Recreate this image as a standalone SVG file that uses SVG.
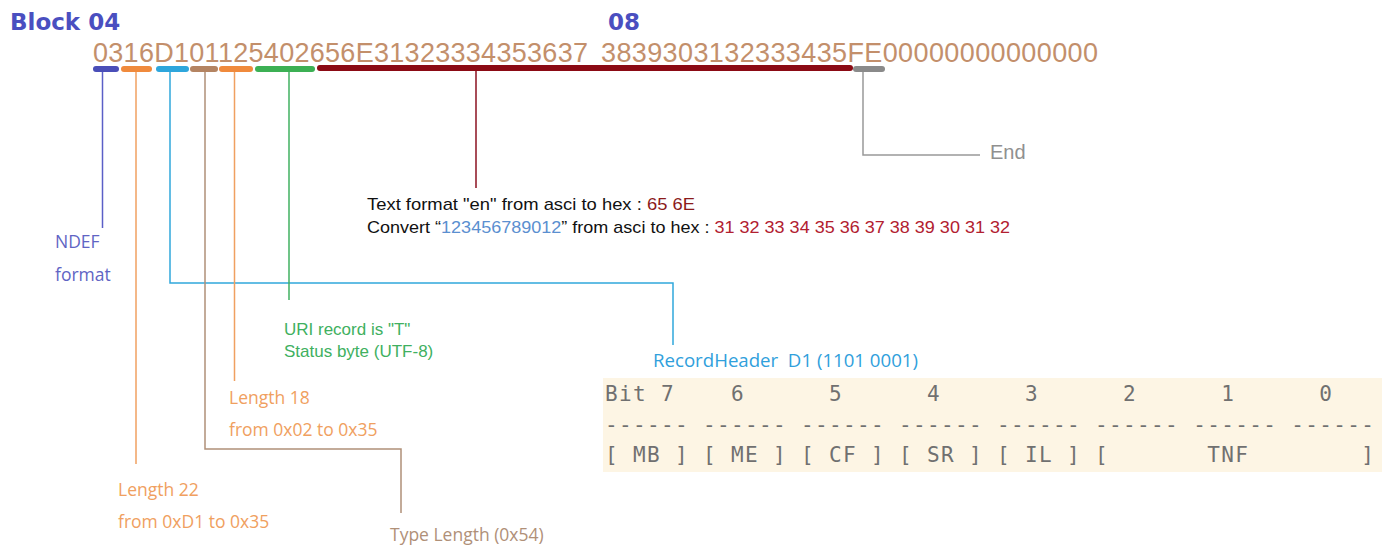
<svg xmlns="http://www.w3.org/2000/svg" width="1388" height="548" viewBox="0 0 1388 548">
<style>
.title{font-family:"DejaVu Sans",sans-serif;font-weight:bold;font-size:23px;fill:#4a4fc0}
.hex{font-family:"Liberation Sans",Arial,sans-serif;font-size:27px;fill:#c38f6b}
.bar{stroke:none}
.conn{fill:none;stroke-width:1.5}
.lbl{font-family:"Open Sans",sans-serif;font-size:17.5px}
.arial{font-family:"Liberation Sans",Arial,sans-serif}
.mono{font-family:"DejaVu Sans Mono",monospace;font-size:21px;fill:#707070;letter-spacing:1.36px}
</style>
<rect width="1388" height="548" fill="#ffffff"/>

<g id="header">
<text class="title" x="10" y="30">Block 04</text>
<text class="title" x="608" y="30">08</text>
<text class="hex" x="93" y="62" textLength="495" lengthAdjust="spacing">0316D101125402656E31323334353637</text>
<text class="hex" x="601" y="62" textLength="497" lengthAdjust="spacing">3839303132333435FE00000000000000</text>
</g>

<g id="bars">
<rect class="bar" x="93" y="66" width="26" height="6" rx="3" fill="#4a4eb8"/>
<rect class="bar" x="121" y="66" width="31" height="6" rx="3" fill="#f08a3c"/>
<rect class="bar" x="156" y="66" width="33" height="6" rx="3" fill="#2ea6dc"/>
<rect class="bar" x="190" y="66" width="28" height="6" rx="3" fill="#b48462"/>
<rect class="bar" x="219" y="66" width="34" height="6" rx="3" fill="#f08a3c"/>
<rect class="bar" x="255" y="66" width="60" height="6" rx="3" fill="#3cb054"/>
<rect class="bar" x="317" y="65" width="536" height="6" rx="3" fill="#8b0a14"/>
<rect class="bar" x="853" y="66" width="32" height="6" rx="3" fill="#8a8a8a"/>
</g>

<g id="connectors">
<path class="conn" d="M102.5 72 V228" stroke="#5b5fc7"/>
<path class="conn" d="M136 72 V464" stroke="#f0a060"/>
<path class="conn" d="M170 72 V283 H673 V345" stroke="#30a8dc"/>
<path class="conn" d="M205 72 V449 H401 V513" stroke="#b09078"/>
<path class="conn" d="M234.5 72 V381" stroke="#f0a060"/>
<path class="conn" d="M289 72 V300" stroke="#40b060"/>
<path class="conn" d="M476 71 V188" stroke="#8b1020"/>
<path class="conn" d="M863 72 V155 H980" stroke="#999999"/>
</g>

<g id="ndef">
<text class="lbl" x="55" y="248" fill="#6064c4">NDEF</text>
<text class="lbl" x="55" y="281" fill="#6064c4">format</text>
</g>

<g id="length22">
<text class="lbl" x="118" y="496" fill="#f0a060">Length 22</text>
<text class="lbl" x="118" y="528" fill="#f0a060">from 0xD1 to 0x35</text>
</g>

<g id="length18">
<text class="lbl" x="229" y="404" fill="#f0a060">Length 18</text>
<text class="lbl" x="229" y="436" fill="#f0a060">from 0x02 to 0x35</text>
</g>

<g id="typelength">
<text class="lbl" x="390" y="541" fill="#b09078">Type Length (0x54)</text>
</g>

<g id="uri">
<text class="arial" x="284" y="335" font-size="17" fill="#40b060">URI record is "T"</text>
<text class="arial" x="284" y="357" font-size="17" fill="#40b060">Status byte (UTF-8)</text>
</g>

<g id="payload">
<text class="arial" x="367" y="210" font-size="17" fill="#111111" textLength="328" lengthAdjust="spacingAndGlyphs">Text format "en" from asci to hex : <tspan fill="#8b1a1a">65 6E</tspan></text>
<text class="arial" x="367" y="233" font-size="17" fill="#111111" textLength="643" lengthAdjust="spacingAndGlyphs">Convert “<tspan fill="#5b8fd0">123456789012</tspan>” from asci to hex : <tspan fill="#b22030">31 32 33 34 35 36 37 38 39 30 31 32</tspan></text>
</g>

<g id="end">
<text class="arial" x="990" y="159" font-size="20" fill="#909090">End</text>
</g>

<g id="recordheader">
<text class="lbl" x="653" y="367" fill="#30a0dc" textLength="265" lengthAdjust="spacingAndGlyphs" xml:space="preserve">RecordHeader  D1 (1101 0001)</text>
<rect x="603" y="378" width="779" height="94" fill="#fdf5e4"/>
<text class="mono" x="605" y="401" xml:space="preserve">Bit 7    6      5      4      3      2      1      0</text>
<text class="mono" x="605" y="432" xml:space="preserve">------ ------ ------ ------ ------ ------ ------ ------</text>
<text class="mono" x="605" y="462" xml:space="preserve">[ MB ] [ ME ] [ CF ] [ SR ] [ IL ] [       TNF        ]</text>
</g>
</svg>
